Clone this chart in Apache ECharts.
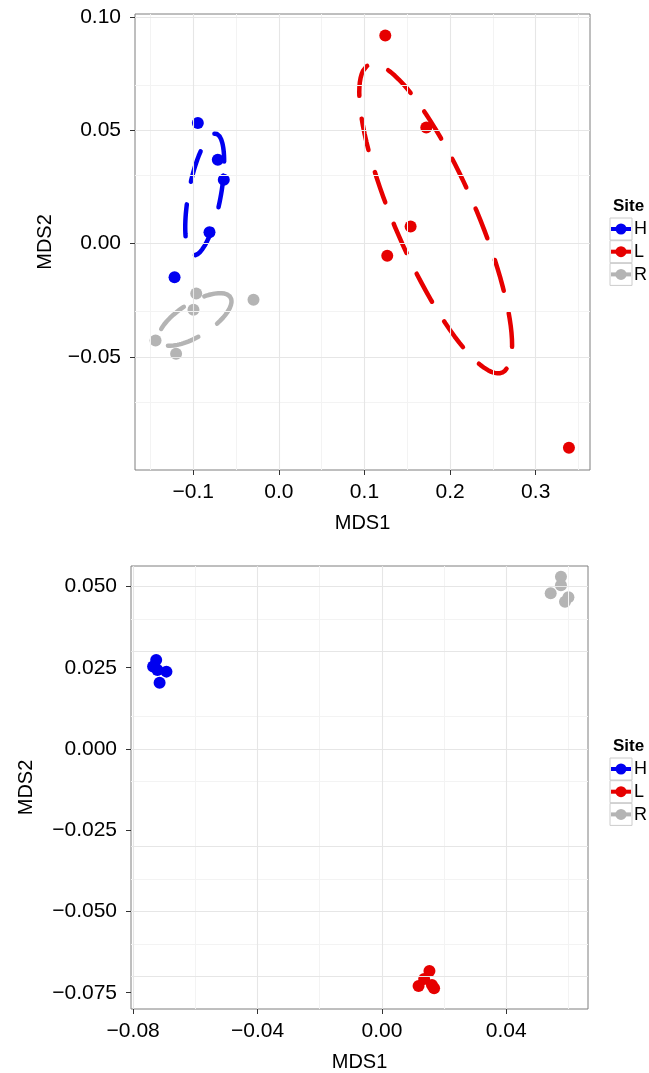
<!DOCTYPE html>
<html><head><meta charset="utf-8">
<script src="https://cdn.jsdelivr.net/npm/echarts@6/dist/echarts.min.js"></script>
<style>html,body{margin:0;padding:0;background:#fff}#c{width:649px;height:1073px}</style>
</head><body><div id="c"></div>
<script>
// ---------- data ----------
const sites = ['H', 'L', 'R'];
const siteColors = ['#0000f0', '#e60000', '#b4b4b4'];

// upper NMDS panel (MDS1, MDS2)
const topH = [[-0.0946, 0.0532], [-0.0713, 0.0370], [-0.0643, 0.0282], [-0.0810, 0.0050], [-0.1218, -0.0148]];
const topL = [[0.1243, 0.0918], [0.1722, 0.0512], [0.1539, 0.0076], [0.1266, -0.0053], [0.3388, -0.0900]];
const topR = [[-0.0965, -0.0220], [-0.0296, -0.0247], [-0.0997, -0.0291], [-0.1440, -0.0427], [-0.1200, -0.0485]];

// lower NMDS panel
const botH = [[-0.0726, 0.0274], [-0.0736, 0.0254], [-0.0693, 0.0238], [-0.0715, 0.0204], [-0.0722, 0.0243]];
const botL = [[0.0153, -0.0683], [0.0136, -0.0708], [0.0118, -0.0729], [0.0161, -0.0726], [0.0168, -0.0736]];
const botR = [[0.0576, 0.0530], [0.0576, 0.0504], [0.0543, 0.0479], [0.0589, 0.0453], [0.0600, 0.0467]];

// axis ticks
const topXTicks = [-0.1, 0.0, 0.1, 0.2, 0.3];
const topXMinor = [-0.15, -0.05, 0.05, 0.15, 0.25, 0.35];
const topYTicks = [-0.05, 0.00, 0.05, 0.10];
const topYMinor = [-0.075, -0.025, 0.025, 0.075];
const botXTicks = [-0.08, -0.04, 0.00, 0.04];
const botXMinor = [-0.06, -0.02, 0.02, 0.06];
const botYTicks = [-0.075, -0.050, -0.025, 0.000, 0.025, 0.050];
const botYMinor = [-0.0625, -0.0375, -0.0125, 0.0125, 0.0375];

// ---------- standard-deviation ellipse of each group (sample covariance) ----------
function ellipsePath(pts) {
  const n = pts.length;
  const mx = pts.reduce((s, q) => s + q[0], 0) / n;
  const my = pts.reduce((s, q) => s + q[1], 0) / n;
  let a = 0, b = 0, c = 0;
  pts.forEach(q => { const dx = q[0] - mx, dy = q[1] - my; a += dx * dx; b += dx * dy; c += dy * dy; });
  a /= (n - 1); b /= (n - 1); c /= (n - 1);
  const r11 = Math.sqrt(a), r12 = b / r11, r22 = Math.sqrt(Math.max(c - r12 * r12, 0));
  const out = [];
  const seg = 100;
  for (let k = 0; k <= seg; k++) {
    const t = k * 2 * Math.PI / seg;
    const ct = Math.cos(t), st = Math.sin(t);
    out.push([mx + ct * r11, my + ct * r12 + st * r22]);
  }
  return out;
}

// ---------- styling helpers ----------
const FONT = '"Liberation Sans", Arial, Helvetica, sans-serif';
const fmt = dec => v => (v < -1e-12 ? '\u2212' : '') + Math.abs(v).toFixed(dec);

function xAxis(gi, min, max, ticks, dec) {
  return {
    type: 'value', gridIndex: gi, min, max, splitNumber: 5,
    name: 'MDS1', nameLocation: 'middle', nameGap: 43,
    nameTextStyle: { fontFamily: FONT, fontSize: 20, color: '#000' },
    axisLine: { show: false, onZero: false },
    axisTick: { show: true, length: 5, customValues: ticks, lineStyle: { color: '#333', width: 1 } },
    axisLabel: { customValues: ticks, formatter: fmt(dec), margin: 12, fontFamily: FONT, fontSize: 21, color: '#000' },
    splitLine: { show: false }
  };
}
function yAxis(gi, min, max, ticks, dec, gap) {
  return {
    type: 'value', gridIndex: gi, min, max, splitNumber: 5,
    name: 'MDS2', nameLocation: 'middle', nameGap: gap,
    nameTextStyle: { fontFamily: FONT, fontSize: 20, color: '#000' },
    axisLine: { show: false, onZero: false },
    axisTick: { show: true, length: 5, customValues: ticks, lineStyle: { color: '#333', width: 1 } },
    axisLabel: { customValues: ticks, formatter: fmt(dec), margin: 14, fontFamily: FONT, fontSize: 21, color: '#000' },
    splitLine: { show: false }
  };
}
function gridLines(gi, xt, xm, yt, ym) {
  const major = { color: '#e6e6e6', width: 1.1, type: 'solid' };
  const minor = { color: '#f3f3f3', width: 1, type: 'solid' };
  const items = [];
  xm.forEach(v => items.push({ xAxis: v, lineStyle: minor }));
  ym.forEach(v => items.push({ yAxis: v, lineStyle: minor }));
  xt.forEach(v => items.push({ xAxis: v, lineStyle: major }));
  yt.forEach(v => items.push({ yAxis: v, lineStyle: major }));
  return {
    type: 'line', xAxisIndex: gi, yAxisIndex: gi, data: [], silent: true, z: 1,
    markLine: { silent: true, symbol: ['none', 'none'], label: { show: false }, animation: false, data: items }
  };
}
function legendEls(titleY) {
  const els = [{ type: 'text', x: 613, y: titleY, style: { text: 'Site', font: 'bold 17px ' + FONT, fill: '#000', verticalAlign: 'middle' } }];
  sites.forEach((s, i) => {
    const y = titleY + 12 + i * 22.7;
    els.push({ type: 'rect', shape: { x: 610, y: y, width: 22, height: 22 }, style: { fill: '#fff', stroke: '#cccccc', lineWidth: 1 } });
    els.push({ type: 'line', shape: { x1: 611, y1: y + 11, x2: 631, y2: y + 11 }, style: { stroke: siteColors[i], lineWidth: 4 } });
    els.push({ type: 'circle', shape: { cx: 621, cy: y + 11, r: 5.5 }, style: { fill: siteColors[i] } });
    els.push({ type: 'text', x: 634, y: y + 11.5, style: { text: s, font: '18px ' + FONT, fill: '#000', verticalAlign: 'middle' } });
  });
  return els;
}

const topGroups = [topH, topL, topR];
const botGroups = [botH, botL, botR];

const series = [gridLines(0, topXTicks, topXMinor, topYTicks, topYMinor), gridLines(1, botXTicks, botXMinor, botYTicks, botYMinor)];
topGroups.forEach((g, i) => {
  series.push({
    type: 'line', name: sites[i], xAxisIndex: 0, yAxisIndex: 0, data: ellipsePath(g), showSymbol: false, smooth: false,
    silent: true, z: 3, lineStyle: { color: siteColors[i], width: 4.5, type: [32, 23], cap: 'round', join: 'round' }
  });
  series.push({
    type: 'scatter', name: sites[i], xAxisIndex: 0, yAxisIndex: 0, data: g, symbolSize: 12, z: 4,
    itemStyle: { color: siteColors[i], opacity: 1 }
  });
});
botGroups.forEach((g, i) => {
  series.push({
    type: 'scatter', name: sites[i], xAxisIndex: 1, yAxisIndex: 1, data: g, symbolSize: 12, z: 4,
    itemStyle: { color: siteColors[i], opacity: 1 }
  });
});

const chart = echarts.init(document.getElementById('c'), null, { renderer: 'canvas' });
chart.setOption({
  animation: false,
  backgroundColor: '#fff',
  grid: [
    { left: 135, right: 59, top: 14, height: 456, show: true, borderColor: '#7f7f7f', borderWidth: 1, backgroundColor: 'transparent', containLabel: false },
    { left: 131, right: 61, top: 566, height: 444, show: true, borderColor: '#7f7f7f', borderWidth: 1, backgroundColor: 'transparent', containLabel: false }
  ],
  xAxis: [xAxis(0, -0.168, 0.3634, topXTicks, 1), xAxis(1, -0.0807, 0.0663, botXTicks, 2)],
  yAxis: [yAxis(0, -0.0998, 0.1013, topYTicks, 2, 80), yAxis(1, -0.0800, 0.0563, botYTicks, 3, 95)],
  series,
  graphic: legendEls(206).concat(legendEls(746))
});
</script>
</body></html>
